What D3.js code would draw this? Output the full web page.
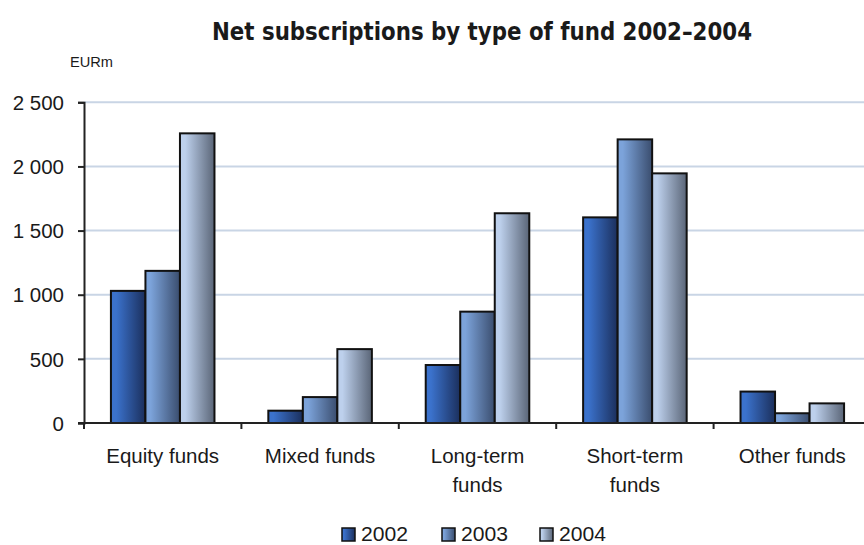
<!DOCTYPE html>
<html>
<head>
<meta charset="utf-8">
<script src="https://cdn.jsdelivr.net/npm/d3@7"></script>
<style>
    body { margin: 0; background: #fff; }
    svg { display: block; }
    text { font-family: "Liberation Sans", Arial, sans-serif; fill: #1a1a1a; }
</style>
</head>
<body>
<div id="chart"></div>
<script>
// Data
const categories = [["Equity funds"], ["Mixed funds"], ["Long-term", "funds"], ["Short-term", "funds"], ["Other funds"]];
const years = ["2002", "2003", "2004"];
const values2002 = [1030, 96, 452, 1603, 245];
const values2003 = [1186, 202, 868, 2211, 76];
const values2004 = [2258, 576, 1635, 1946, 153];
const yTicks = [0, 500, 1000, 1500, 2000, 2500];

const seriesValues = [values2002, values2003, values2004];
// gradient stops (left light, right dark) per year
const gradients = [
    ["#3b72cc", "#1b2f5c"],
    ["#7ca3da", "#3a4d6e"],
    ["#bdd0ec", "#5a6577"]
];

const width = 864, height = 545;
const svg = d3.select('#chart').append('svg')
    .attr('width', width)
    .attr('height', height);

const defs = svg.append('defs');
gradients.forEach((g, i) => {
    const lg = defs.append('linearGradient')
        .attr('id', 'grad' + i)
        .attr('x1', '0%').attr('x2', '100%')
        .attr('y1', '0%').attr('y2', '0%');
    lg.append('stop').attr('offset', '0%').attr('stop-color', g[0]);
    lg.append('stop').attr('offset', '15%').attr('stop-color', g[0]);
    lg.append('stop').attr('offset', '100%').attr('stop-color', g[1]);
});

// Scales
const x0 = d3.scaleBand()
    .domain(d3.range(categories.length))
    .range([84, 871])
    .padding(0);

const x1 = d3.scaleBand()
    .domain(years)
    .range([0, x0.bandwidth()])
    .paddingInner(0)
    .paddingOuter(0.78);

const y = d3.scaleLinear()
    .domain([0, 2500])
    .range([423, 102.3]);

// Gridlines
svg.append('g')
    .selectAll('line')
    .data(yTicks.filter(d => d > 0))
    .join('line')
    .attr('x1', 84).attr('x2', width)
    .attr('y1', d => y(d)).attr('y2', d => y(d))
    .attr('stroke', '#c9d5e5')
    .attr('stroke-width', 2);

// Bars
const groups = svg.append('g')
    .selectAll('g')
    .data(categories.map((c, i) => i))
    .join('g')
    .attr('transform', i => `translate(${x0(i)},0)`);

groups.selectAll('rect')
    .data(i => years.map((yr, s) => ({ yr, s, v: seriesValues[s][i] })))
    .join('rect')
    .attr('x', d => x1(d.yr))
    .attr('y', d => y(d.v))
    .attr('width', x1.bandwidth())
    .attr('height', d => y(0) - y(d.v))
    .attr('fill', d => `url(#grad${d.s})`)
    .attr('stroke', '#111')
    .attr('stroke-width', 2);

// Y axis
const yAxis = svg.append('g')
    .attr('transform', 'translate(84,0)')
    .call(d3.axisLeft(y)
        .tickValues(yTicks)
        .tickSize(6)
        .tickPadding(14)
        .tickFormat(d => d3.format(',')(d).replace(',', ' ')));
yAxis.select('.domain').attr('stroke', '#222').attr('stroke-width', 2);
yAxis.selectAll('.tick line').attr('stroke', '#222').attr('stroke-width', 2);
yAxis.selectAll('.tick text')
    .style('font-size', '20.5px')
    .attr('fill', '#1a1a1a')
    .attr('dy', '0.35em');

// X axis baseline
svg.append('line')
    .attr('x1', 78).attr('x2', width)
    .attr('y1', y(0)).attr('y2', y(0))
    .attr('stroke', '#222')
    .attr('stroke-width', 2);

// Category boundary ticks
svg.append('g')
    .selectAll('line')
    .data(d3.range(0, categories.length + 1))
    .join('line')
    .attr('x1', i => 84 + i * x0.step())
    .attr('x2', i => 84 + i * x0.step())
    .attr('y1', y(0)).attr('y2', y(0) + 6)
    .attr('stroke', '#222')
    .attr('stroke-width', 2);

// Category labels
const catLabels = svg.append('g')
    .selectAll('text')
    .data(categories)
    .join('text')
    .attr('x', (c, i) => x0(i) + x0.bandwidth() / 2)
    .attr('y', 463)
    .attr('text-anchor', 'middle')
    .style('font-size', '20.5px');
catLabels.selectAll('tspan')
    .data(c => c)
    .join('tspan')
    .attr('x', function () { return this.parentNode.getAttribute('x'); })
    .attr('dy', (d, j) => j === 0 ? 0 : 29)
    .text(d => d);

// Title
svg.append('text')
    .attr('x', 482)
    .attr('y', 40)
    .attr('text-anchor', 'middle')
    .attr('textLength', 540)
    .attr('lengthAdjust', 'spacingAndGlyphs')
    .style('font-family', '"Liberation Sans Narrow", "Arial Narrow", "DejaVu Sans Condensed", sans-serif')
    .style('font-weight', 'bold')
    .style('font-size', '25px')
    .attr('fill', '#000')
    .text('Net subscriptions by type of fund 2002\u20132004');

// Unit label
svg.append('text')
    .attr('x', 70)
    .attr('y', 67)
    .attr('textLength', 43)
    .attr('lengthAdjust', 'spacingAndGlyphs')
    .style('font-size', '15px')
    .text('EURm');

// Legend
const legendX = [342, 442, 540];
const legend = svg.append('g')
    .selectAll('g')
    .data(years)
    .join('g')
    .attr('transform', (d, i) => `translate(${legendX[i]},528)`);
legend.append('rect')
    .attr('width', 13).attr('height', 13)
    .attr('fill', (d, i) => `url(#grad${i})`)
    .attr('stroke', '#111')
    .attr('stroke-width', 1.5);
legend.append('text')
    .attr('x', 19)
    .attr('y', 13)
    .attr('textLength', 47)
    .attr('lengthAdjust', 'spacingAndGlyphs')
    .style('font-size', '20px')
    .text(d => d);
</script>
</body>
</html>
